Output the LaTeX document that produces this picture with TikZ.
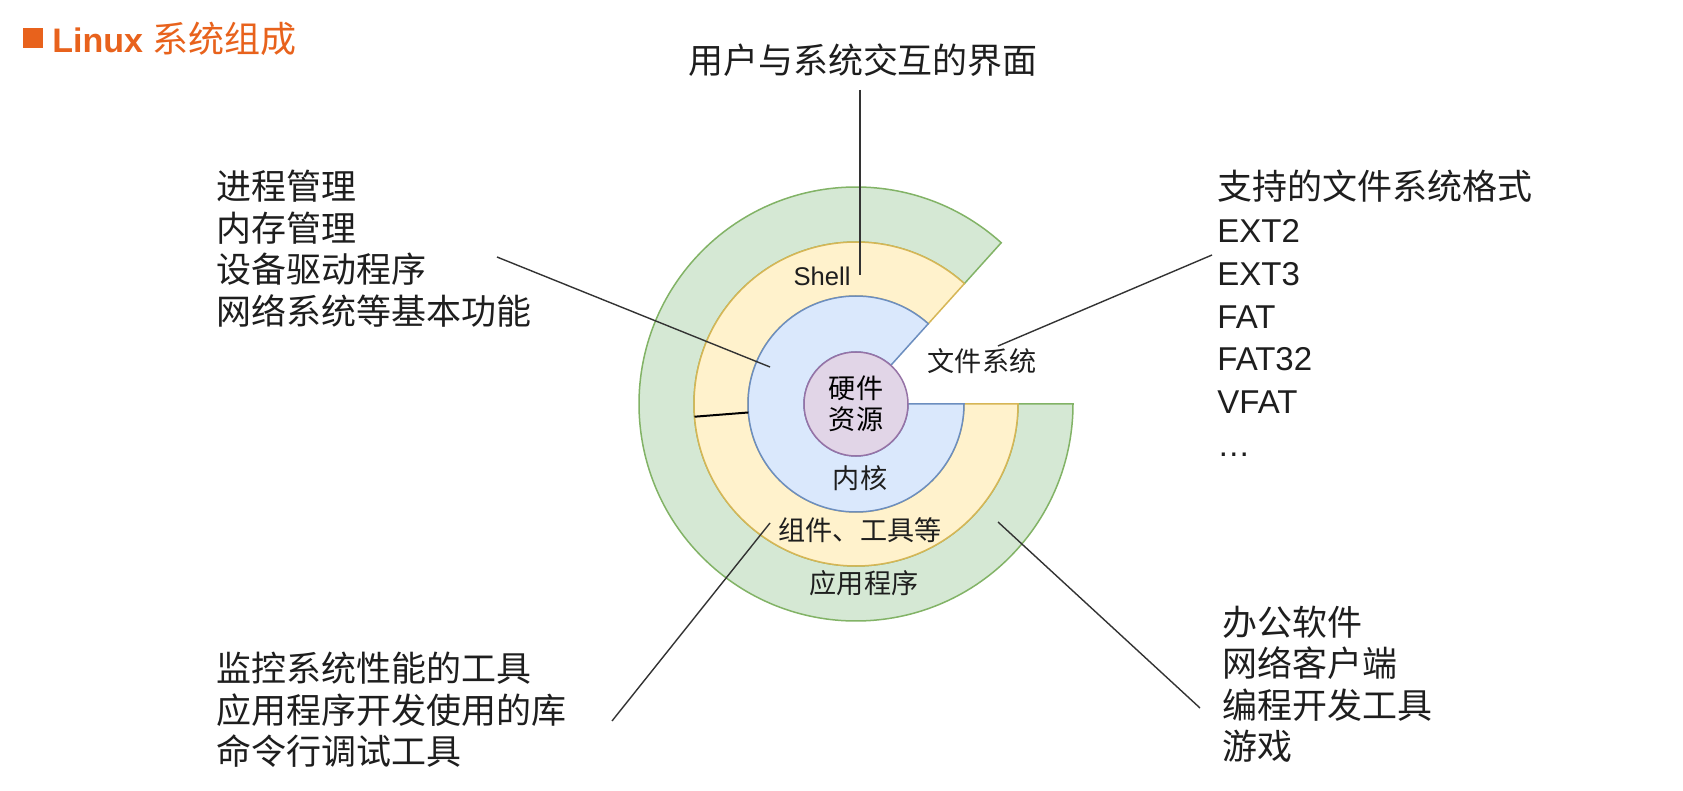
\documentclass[tikz,border=0pt]{standalone}
\usepackage{fontspec}
\setmainfont{Liberation Sans}
\newfontfamily\cjk[Scale=1.06]{Noto Sans CJK SC}
\usepackage{xcolor}
\usepackage{tikz}
\usetikzlibrary{positioning}

\definecolor{appfill}{HTML}{D5E8D4}
\definecolor{appline}{HTML}{82B366}
\definecolor{toolfill}{HTML}{FFF2CC}
\definecolor{toolline}{HTML}{D6B656}
\definecolor{kernfill}{HTML}{DAE8FC}
\definecolor{kernline}{HTML}{6C8EBF}
\definecolor{hwfill}{HTML}{E1D5E7}
\definecolor{hwline}{HTML}{9673A6}
\definecolor{titleorange}{RGB}{232,98,28}
\definecolor{inkgray}{HTML}{1E1E1E}

\begin{document}
\begin{tikzpicture}[
  x=0.5pt, y=-0.5pt,
  appring/.style={draw=appline, fill=appfill, line width=0.75pt},
  toolring/.style={draw=toolline, fill=toolfill, line width=0.75pt},
  kernring/.style={draw=kernline, fill=kernfill, line width=0.75pt},
  hwdisc/.style={circle, draw=hwline, fill=hwfill, line width=0.75pt, minimum size=52pt, inner sep=0pt, align=center, font=\fontsize{12.8}{15.5}\selectfont\cjk},
  txt/.style={font=\fontsize{16.5}{20}\selectfont, text=inkgray, anchor=west, inner sep=0pt, text height=12.5pt, text depth=0.8pt},
  lbl/.style={font=\fontsize{12.8}{15.5}\selectfont, text=inkgray, inner sep=0pt},
  leader/.style={draw=black!80, line width=0.7pt}
]
  \useasboundingbox (0,0) rectangle (1683,791);
  \fill[white] (0,0) rectangle (1683,791);

  % title
  \node[fill=titleorange, minimum size=10pt, inner sep=0pt] (bullet) at (32.5,38) {};
  \node[anchor=west, inner sep=0pt, text=titleorange, text height=12.9pt, text depth=0.8pt,
        font=\fontsize{17}{20}\selectfont] (title) at (52,40) {\textbf{Linux} {\cjk 系统组成}};

  % rings, centre of the disc at (856,404)
  \begin{scope}[shift={(856,404)}, y=0.5pt]
    \draw[appring] (48:162) -- (48:217) arc[start angle=48, end angle=360, radius=217]
      -- (0:162) arc[start angle=360, end angle=48, radius=162] -- cycle;
    \draw[toolring] (48:108) -- (48:162) arc[start angle=48, end angle=360, radius=162]
      -- (0:108) arc[start angle=360, end angle=48, radius=108] -- cycle;
    \draw[kernring] (48:52) -- (48:108) arc[start angle=48, end angle=360, radius=108]
      -- (0:52) arc[start angle=360, end angle=48, radius=52] -- cycle;
    \coordinate (div-a) at (184.5:162);
    \coordinate (div-b) at (184.5:108);
  \end{scope}
  \draw[black, line width=1pt] (div-a) -- (div-b);
  \node[hwdisc] (hw) at (856,404) {硬件\\资源};

  % ring labels
  \node[lbl] (shell) at (822,276) {Shell};
  \node[lbl] (fs) at (982,361) {\cjk 文件系统};
  \node[lbl] (kern) at (860,478) {\cjk 内核};
  \node[lbl] (tools) at (860,530) {\cjk 组件、工具等};
  \node[lbl] (apps) at (864,583) {\cjk 应用程序};

  % outer texts
  \node[txt, anchor=center] (ui) at (863,62) {\cjk 用户与系统交互的界面};
  \foreach \t [count=\i from 0] in {进程管理,内存管理,设备驱动程序,网络系统等基本功能}
    \node[txt] (kern-\i) at (216,188+41.5*\i) {\cjk\t};
  \foreach \t [count=\i from 0] in {{\cjk 支持的文件系统格式},EXT2,EXT3,FAT,FAT32,VFAT,…}
    \node[txt] (fs-\i) at (1217,188+42.8*\i) {\t};
  \foreach \t [count=\i from 0] in {监控系统性能的工具,应用程序开发使用的库,命令行调试工具}
    \node[txt] (tools-\i) at (216,670+41.5*\i) {\cjk\t};
  \foreach \t [count=\i from 0] in {办公软件,网络客户端,编程开发工具,游戏}
    \node[txt] (apps-\i) at (1222,623.5+41.5*\i) {\cjk\t};

  % leader lines
  \coordinate (ui-a) at (860,90);    \coordinate (ui-b) at (860,275);
  \coordinate (kern-a) at (497,257); \coordinate (kern-b) at (770,367);
  \coordinate (fs-a) at (1212,255);  \coordinate (fs-b) at (998,346);
  \coordinate (tools-a) at (612,721); \coordinate (tools-b) at (770,523);
  \coordinate (apps-a) at (1200,708); \coordinate (apps-b) at (998,522);
  \draw[leader] (ui-a) -- (ui-b);
  \draw[leader] (kern-a) -- (kern-b);
  \draw[leader] (fs-a) -- (fs-b);
  \draw[leader] (tools-a) -- (tools-b);
  \draw[leader] (apps-a) -- (apps-b);
\end{tikzpicture}
\end{document}
